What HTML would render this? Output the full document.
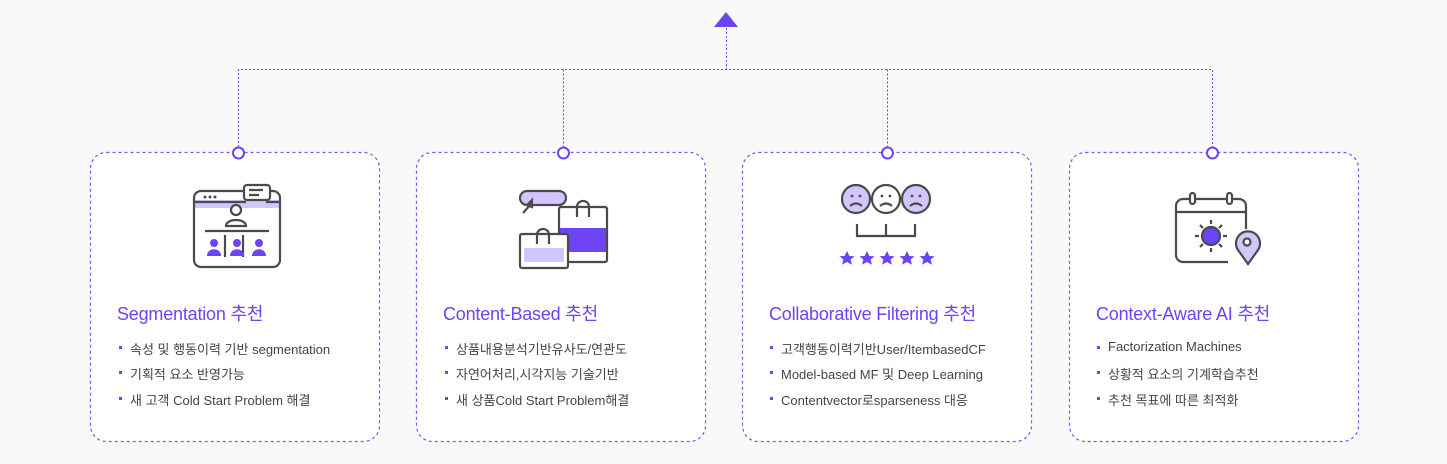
<!DOCTYPE html>
<html><head><meta charset="utf-8"><style>
body{margin:0;width:1447px;height:464px;background:#f9f9f9;overflow:hidden;font-family:"Liberation Sans","Noto Sans CJK KR",sans-serif}
svg{position:absolute;left:0;top:0}
.t{position:absolute;font-size:18px;color:#6c43f5;white-space:nowrap;letter-spacing:-0.2px}
.l{position:absolute;font-size:13px;color:#444;white-space:nowrap;letter-spacing:0}
.l::before{content:"";position:absolute;left:-11px;top:7px;width:3px;height:3px;background:#6c43f5}
</style></head><body>
<svg width="1447" height="464" viewBox="0 0 1447 464">
<g fill="#fff" stroke="#7b55f6" stroke-width="1.2" stroke-dasharray="3,3">
<rect x="90.5" y="152.5" width="289" height="289" rx="16"/>
<rect x="416.5" y="152.5" width="289" height="289" rx="16"/>
<rect x="742.5" y="152.5" width="289" height="289" rx="16"/>
<rect x="1069.5" y="152.5" width="289" height="289" rx="16"/>
</g>
<g stroke="#6c43f5" stroke-width="1" stroke-dasharray="2,2" fill="none">
<path d="M238.5 147V69.5H1212.5V147M563.5 69.5V147M887.5 69.5V147M726.5 28V69.5"/>
</g>
<polygon points="726,12 738,27 714,27" fill="#6c43f5"/>
<g fill="#fff" stroke="#6c43f5" stroke-width="2">
<circle cx="238.5" cy="153" r="5.5"/><circle cx="563.5" cy="153" r="5.5"/><circle cx="887.5" cy="153" r="5.5"/><circle cx="1212.5" cy="153" r="5.5"/>
</g>
<g stroke="#4a4a4a" stroke-width="2.2" fill="none">
<path d="M194 200h86v8h-86z" fill="#d3c6ff" stroke="none"/>
<rect x="194" y="191" width="86" height="76" rx="7"/>
<path d="M194 202h52M266 202h14"/>
<path d="M205 231h64M225 235v22M243 235v22"/>
<rect x="244" y="185" width="26" height="15" rx="3" fill="#fff"/>
<path d="M249 190h14M249 195h10"/>
<circle cx="236" cy="210" r="5" fill="#fff"/><path d="M226 226c0-8 20-8 20 0z" fill="#fff"/>
</g>
<g fill="#4a4a4a"><circle cx="205" cy="197" r="1.5"/><circle cx="210" cy="197" r="1.5"/><circle cx="215" cy="197" r="1.5"/></g>
<g fill="#6c43f5"><circle cx="214" cy="243" r="4"/><path d="M207 256c0-9 14-9 14 0z"/><circle cx="237" cy="243" r="4"/><path d="M230 256c0-9 14-9 14 0z"/><circle cx="259" cy="243" r="4"/><path d="M252 256c0-9 14-9 14 0z"/></g>
<g stroke="#4a4a4a" stroke-width="2.2" fill="none">
<rect x="520" y="191" width="46" height="14" rx="7" fill="#d3c6ff"/>
<path d="M523 213l8-9" /><polygon points="532,200 527,205 532,207" fill="#4a4a4a"/>
<rect x="559" y="207" width="48" height="55" rx="2" fill="#fff"/>
<rect x="560" y="228" width="46" height="24" fill="#6c43f5" stroke="none"/>
<path d="M577 217v-10c0-8 12-8 12 0v10"/>
<rect x="520" y="234" width="48" height="34" rx="2" fill="#fff"/>
<rect x="524" y="248" width="40" height="14" fill="#d3c6ff" stroke="none"/>
<path d="M537 244v-9c0-8 12-8 12 0v9"/>
</g>
<g stroke="#4a4a4a" stroke-width="2.2">
<circle cx="856" cy="199" r="14" fill="#d3c6ff"/><circle cx="916" cy="199" r="14" fill="#d3c6ff"/><circle cx="886" cy="199" r="14" fill="#fff"/>
<g fill="none"><path d="M850 206q6-5 12 0M880 206q6-5 12 0M910 206q6-5 12 0M857 224v12h58v-12M886 224v12"/></g>
</g>
<g fill="#4a4a4a"><circle cx="852" cy="196" r="1.4"/><circle cx="860" cy="196" r="1.4"/><circle cx="882" cy="196" r="1.4"/><circle cx="890" cy="196" r="1.4"/><circle cx="912" cy="196" r="1.4"/><circle cx="920" cy="196" r="1.4"/></g>
<g fill="#6c43f5">
<polygon id="s" points="847,251 849.4,256 854.6,256.3 850.6,259.6 852,264.8 847,262 842,264.8 843.4,259.6 839.4,256.3 844.6,256"/>
<use href="#s" x="20"/><use href="#s" x="40"/><use href="#s" x="60"/><use href="#s" x="80"/>
</g>
<g stroke="#4a4a4a" stroke-width="2.2" fill="none">
<path d="M1228 262h-45a7 7 0 0 1-7-7v-49a7 7 0 0 1 7-7h56a7 7 0 0 1 7 7v23"/>
<path d="M1176 212h70"/>
<rect x="1190" y="193" width="5" height="11" rx="2.5" fill="#fff"/><rect x="1227" y="193" width="5" height="11" rx="2.5" fill="#fff"/>
<circle cx="1211" cy="236" r="9" fill="#6c43f5"/>
<path d="M1211 220v4M1211 248v4M1195 236h4M1223 236h4M1200 225l3 3M1219 244l3 3M1200 247l3-3M1219 228l3-3"/>
<path d="M1248 264l-10-14a12 12 0 1 1 20 0z" fill="#d3c6ff"/>
<circle cx="1247" cy="242" r="3.5" fill="#fff"/>
</g>
</svg>
<div class="t" style="left:117px;top:300px">Segmentation 추천</div>
<div class="l" style="left:130px;top:339px">속성 및 행동이력 기반 segmentation</div>
<div class="l" style="left:130px;top:364px">기획적 요소 반영가능</div>
<div class="l" style="left:130px;top:390px">새 고객 Cold Start Problem 해결</div>
<div class="t" style="left:443px;top:300px">Content-Based 추천</div>
<div class="l" style="left:456px;top:339px">상품내용분석기반유사도/연관도</div>
<div class="l" style="left:456px;top:364px">자연어처리,시각지능 기술기반</div>
<div class="l" style="left:456px;top:390px">새 상품Cold Start Problem해결</div>
<div class="t" style="left:769px;top:300px">Collaborative Filtering 추천</div>
<div class="l" style="left:781px;top:339px">고객행동이력기반User/ItembasedCF</div>
<div class="l" style="left:781px;top:364px">Model-based MF 및 Deep Learning</div>
<div class="l" style="left:781px;top:390px">Contentvector로sparseness 대응</div>
<div class="t" style="left:1096px;top:300px">Context-Aware AI 추천</div>
<div class="l" style="left:1108px;top:339px">Factorization Machines</div>
<div class="l" style="left:1108px;top:364px">상황적 요소의 기계학습추천</div>
<div class="l" style="left:1108px;top:390px">추천 목표에 따른 최적화</div>
</body></html>
